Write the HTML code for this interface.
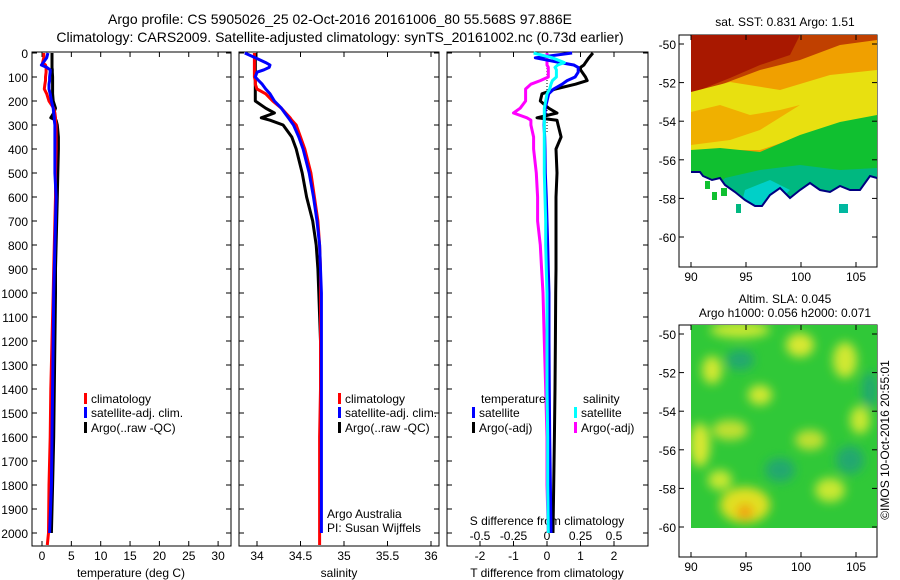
<!DOCTYPE html>
<html><head><meta charset="utf-8">
<style>
html,body{margin:0;padding:0;background:#fff;}
svg{display:block;font-family:"Liberation Sans",sans-serif;}
text{fill:#000;}
</style></head>
<body>
<svg id="fig" width="900" height="580" viewBox="0 0 900 580">
<defs>
<clipPath id="m1clip"><polygon points="691,35 877,35 877,178 870,176 860,190 850,190 840,186 830,192 820,190 810,183 800,190 790,198 780,188 770,195 762,206 755,206 745,200 735,192 725,185 720,178 712,180 703,176 700,172 691,172"/></clipPath>
<clipPath id="m2clip"><rect x="691" y="325" width="186" height="203"/></clipPath>
<filter id="blur"><feGaussianBlur stdDeviation="5"/></filter>
</defs>
<text x="340" y="24" font-size="14" text-anchor="middle">Argo profile: CS 5905026_25 02-Oct-2016 20161006_80 55.568S 97.886E</text>
<text x="340" y="42" font-size="14" text-anchor="middle">Climatology: CARS2009. Satellite-adjusted climatology: synTS_20161002.nc (0.73d earlier)</text>
<g id="panels"></g>

<!-- Map 1 SST -->
<g>
<rect x="679" y="35" width="198" height="232" fill="none" stroke="#000"/>
<g clip-path="url(#m1clip)">
<rect x="691" y="35" width="186" height="180" fill="#f0a000"/>
<polygon points="691,35 877,35 877,40 840,45 800,60 760,70 720,85 691,95" fill="#c04000"/>
<polygon points="691,35 800,35 790,55 760,65 730,78 700,90 691,92" fill="#a81800"/>
<polygon points="691,92 730,82 780,90 830,75 877,70 877,135 820,130 760,150 720,150 691,150" fill="#e8e010"/>
<polygon points="691,112 720,105 750,115 780,110 800,105 760,130 730,140 691,145" fill="#f0b000"/>
<polygon points="691,150 720,148 760,152 800,135 840,122 877,115 877,180 691,180" fill="#10c030"/>
<polygon points="725,178 760,170 800,165 840,170 877,168 877,215 691,215" fill="#00b880"/>
<polygon points="745,190 770,180 790,190 770,210 740,210" fill="#00d0c8"/>
</g>
<polyline fill="none" stroke="#000080" stroke-width="2" points="877,178 870,176 860,190 850,190 840,186 830,192 820,190 810,183 800,190 790,198 780,188 770,195 762,206 755,206 745,200 735,192 725,185 720,178 712,180 703,176 700,172 691,172"/>
<rect x="705" y="181" width="5" height="8" fill="#10c030"/><rect x="712" y="192" width="5" height="8" fill="#10c030"/><rect x="721" y="188" width="6" height="8" fill="#10c030"/><rect x="736" y="204" width="5" height="9" fill="#00b880"/><rect x="839" y="204" width="9" height="9" fill="#00b8a0"/>
<text x="785" y="26" font-size="12" text-anchor="middle">sat. SST: 0.831  Argo: 1.51</text>
</g>

<!-- Map 2 SLA -->
<g>
<rect x="679" y="325" width="198" height="232" fill="none" stroke="#000"/>
<g clip-path="url(#m2clip)">
<rect x="691" y="325" width="186" height="203" fill="#30c838"/>
<g filter="url(#blur)">
<ellipse cx="740" cy="330" rx="30" ry="8" fill="#c8e830"/>
<ellipse cx="800" cy="345" rx="14" ry="12" fill="#d8e830"/>
<ellipse cx="712" cy="370" rx="10" ry="14" fill="#d0e830"/>
<ellipse cx="845" cy="360" rx="12" ry="18" fill="#d0e830"/>
<ellipse cx="760" cy="395" rx="12" ry="10" fill="#d0e830"/>
<ellipse cx="700" cy="445" rx="10" ry="22" fill="#d8e830"/>
<ellipse cx="730" cy="430" rx="18" ry="10" fill="#c0e030"/>
<ellipse cx="810" cy="440" rx="15" ry="10" fill="#c0e030"/>
<ellipse cx="860" cy="420" rx="10" ry="14" fill="#c8e830"/>
<ellipse cx="745" cy="505" rx="25" ry="18" fill="#e0e020"/>
<ellipse cx="745" cy="512" rx="8" ry="8" fill="#f0a010"/>
<ellipse cx="720" cy="480" rx="12" ry="10" fill="#c8e830"/>
<ellipse cx="830" cy="490" rx="15" ry="12" fill="#c8e830"/>
<ellipse cx="780" cy="470" rx="15" ry="12" fill="#20a870"/>
<ellipse cx="850" cy="460" rx="14" ry="14" fill="#20a870"/>
<ellipse cx="740" cy="360" rx="14" ry="10" fill="#20a870"/>
<ellipse cx="870" cy="390" rx="8" ry="18" fill="#20a870"/>
</g>
</g>
<text x="785" y="303" font-size="12" text-anchor="middle">Altim. SLA: 0.045</text>
<text x="785" y="317" font-size="12" text-anchor="middle">Argo h1000: 0.056 h2000: 0.071</text>
</g>
<g id="mapaxes"></g>
<text transform="translate(889,440) rotate(-90)" font-size="12" text-anchor="middle">©IMOS 10-Oct-2016 20:55:01</text>
</svg>
<script>
const depths   = [0,20,40,50,60,70,80,100,115,130,150,170,200,230,250,270,280,300,350,400,500,600,700,800,900,1000,1200,1400,1600,1800,2000,2050];
const tempClim = [0.3,0.3,0.1,0.6,0.7,0.7,0.7,0.6,0.6,0.5,0.4,0.8,1.2,2.0,2.2,2.3,2.3,2.4,2.4,2.4,2.3,2.3,2.2,2.1,2.0,1.9,1.7,1.5,1.4,1.2,1.1,0.9];
const tempSat  = [1.0,0.8,0.2,-0.1,0.8,1.4,1.4,1.3,1.3,1.2,1.2,1.4,1.6,1.9,2.0,2.1,2.1,2.2,2.2,2.2,2.2,2.4,2.3,2.2,2.1,2.0,1.9,1.8,1.7,1.6,1.3,null];
const tempArgo = [1.7,1.7,1.7,1.7,1.7,1.75,1.75,1.8,1.8,1.8,1.8,1.8,1.9,2.3,2.0,1.5,2.4,2.6,2.8,2.8,2.7,2.6,2.5,2.4,2.3,2.3,2.2,2.1,2.0,1.8,1.6,null];
const salClim  = [33.97,33.97,33.97,33.97,33.97,33.97,33.97,33.97,33.98,33.98,34.0,34.1,34.18,34.28,34.33,34.38,34.40,34.45,34.5,34.55,34.62,34.66,34.70,34.72,34.73,34.73,34.73,34.73,34.72,34.72,34.72,34.72];
const salSat   = [33.86,33.98,34.1,34.15,34.14,34.08,34.0,33.98,34.02,34.06,34.1,34.15,34.2,34.28,34.32,34.36,34.38,34.42,34.48,34.53,34.6,34.65,34.69,34.72,34.73,34.74,34.74,34.74,34.74,34.74,34.74,null];
const salArgo  = [33.98,33.98,33.98,33.98,33.98,33.98,33.98,33.98,33.98,33.98,33.98,33.98,33.98,34.1,34.2,34.05,34.15,34.3,34.4,34.45,34.52,34.57,34.64,34.68,34.70,34.71,34.73,34.73,34.73,34.73,34.73,null];
const dTSat    = [0.75,-0.35,0.4,0.8,0.93,0.93,0.93,0.84,0.6,0.45,0.2,0.05,0.0,-0.05,-0.06,-0.08,-0.08,-0.09,-0.07,-0.06,-0.05,-0.02,0,0.02,0.04,0.06,0.06,0.07,0.08,0.1,0.12,null];
const dTArgo   = [1.37,1.25,1.15,1.1,1.0,1.0,1.05,1.15,1.2,0.85,0.25,-0.15,-0.2,0.05,0.3,-0.3,0.3,0.33,0.42,0.27,0.3,0.27,0.27,0.27,0.27,0.26,0.25,0.24,0.22,0.2,0.18,null];
const dSSat    = [-0.1,0.04,0.13,0.08,0.06,0.07,0.07,0.07,0.04,0.03,0.02,0.0,-0.01,-0.02,-0.02,-0.02,-0.02,-0.02,-0.02,-0.02,-0.02,-0.015,-0.01,-0.01,-0.005,0,0,0,0.005,0.005,0.01,null];
const dSArgo   = [0,0,0,0,0.01,0.01,0.01,0.01,-0.05,-0.12,-0.16,-0.16,-0.16,-0.2,-0.25,-0.15,-0.12,-0.12,-0.1,-0.1,-0.08,-0.07,-0.07,-0.05,-0.04,-0.03,-0.02,-0.01,0,0,0.01,null];
const depthTicks = [0,100,200,300,400,500,600,700,800,900,1000,1100,1200,1300,1400,1500,1600,1700,1800,1900,2000];
const tempTicks = [0,5,10,15,20,25,30];
const salTicks = [34,34.5,35,35.5,36];
const salTickLabels = ["34","34.5","35","35.5","36"];
const dTTicks = [-2,-1,0,1,2];
const dSTicks = [-0.5,-0.25,0,0.25,0.5];
const dSTickLabels = ["-0.5","-0.25","0","0.25","0.5"];
const latTicks = [-50,-52,-54,-56,-58,-60];
const lonTicks = [90,95,100,105];

const NS='http://www.w3.org/2000/svg';
const TOP=53, BOT=546, Y0=53, YK=0.24;
const yS = d => Y0 + YK*d;
function mk(tag, attrs, parent){const e=document.createElementNS(NS,tag);for(const k in attrs)e.setAttribute(k,attrs[k]);parent.appendChild(e);return e;}
const G=document.getElementById('panels');

const P = [
 {l:32,r:231,xs:v=>42+5.87*v,name:'temperature'},
 {l:239,r:439,xs:v=>257+87*(v-34),name:'salinity'},
 {l:447,r:648,xs:v=>547+33.5*v,name:'difference'}
];
const sx = v=>547+134*v;

P.forEach((p,i)=>{
  const f=mk('rect',{x:p.l,y:TOP-1,width:p.r-p.l,height:BOT-TOP+1,fill:'none',stroke:'#000','stroke-width':1},G);
  
  
  depthTicks.forEach(d=>{
    const y=yS(d);
    mk('line',{x1:p.l,x2:p.l+5,y1:y,y2:y,stroke:'#000'},G);
    mk('line',{x1:p.r-5,x2:p.r,y1:y,y2:y,stroke:'#000'},G);
    if(i===0){
      const t=mk('text',{x:28,y:y+5,'font-size':12,'text-anchor':'end'},G);
      t.textContent=d;
      
      
    }
  });
});
function xticks(vals,labels,fx,ly,p,top){
  vals.forEach((v,k)=>{
    const x=fx(v);
    mk('line',{x1:x,x2:x,y1:BOT,y2:BOT-5,stroke:'#000'},G);
    if(top) mk('line',{x1:x,x2:x,y1:TOP-1,y2:TOP+4,stroke:'#000'},G);
    const t=mk('text',{x:x,y:ly,'font-size':12,'text-anchor':'middle'},G);
    t.textContent=labels[k];
    
    
  });
}
xticks(tempTicks,tempTicks.map(String),P[0].xs,560,P[0],true);
xticks(salTicks,salTickLabels,P[1].xs,560,P[1],true);
xticks(dTTicks,dTTicks.map(String),P[2].xs,560,P[2],true);
dSTicks.forEach((v,k)=>{
  const t=mk('text',{x:sx(v),y:540,'font-size':12,'text-anchor':'middle'},G);
  t.textContent=dSTickLabels[k];
  
  
});
function label(x,y,s,name,anchor,size){
  const t=mk('text',{x:x,y:y,'font-size':size||12,'text-anchor':anchor||'middle'},G);
  t.textContent=s;
  
  
  return t;
}
label(131,577,'temperature (deg C)','temperature-axis-title');
label(339,577,'salinity','salinity-axis-title');
label(547,577,'T difference from climatology','t-diff-axis-title');
label(547,525,'S difference from climatology','s-diff-axis-title');
label(327,518,'Argo Australia','credit-line-1','start');
label(327,532,'PI: Susan Wijffels','credit-line-2','start');

mk('line',{x1:547,x2:547,y1:TOP,y2:yS(330),stroke:'#000','stroke-dasharray':'1,2'},G);

function line(vals,fx,color,name){
  const pts=[];
  vals.forEach((v,k)=>{ if(v!==null) pts.push(fx(v).toFixed(1)+','+yS(depths[k]).toFixed(1)); });
  const e=mk('polyline',{points:pts.join(' '),fill:'none',stroke:color,'stroke-width':3,'stroke-linejoin':'round'},G);
  
  
}
line(tempArgo,P[0].xs,'#000','temp-argo-line');
line(tempClim,P[0].xs,'#f00','temp-climatology-line');
line(tempSat,P[0].xs,'#00f','temp-satellite-line');
line(salArgo,P[1].xs,'#000','sal-argo-line');
line(salClim,P[1].xs,'#f00','sal-climatology-line');
line(salSat,P[1].xs,'#00f','sal-satellite-line');
line(dTArgo,P[2].xs,'#000','t-diff-argo-line');
line(dSArgo,sx,'#f0f','s-diff-argo-line');
line(dTSat,P[2].xs,'#00f','t-diff-satellite-line');
line(dSSat,sx,'#0ff','s-diff-satellite-line');

function legend(x,y,color,s,name){
  const m=mk('rect',{x:x,y:y-10,width:3,height:11,fill:color},G);
  
  
  label(x+7,y,s,name,'start');
}
legend(84,403,'#f00','climatology','legend-climatology');
legend(84,417,'#00f','satellite-adj. clim.','legend-satellite-adj');
legend(84,432,'#000','Argo(..raw -QC)','legend-argo');
legend(338,403,'#f00','climatology','legend-sal-climatology');
legend(338,417,'#00f','satellite-adj. clim.','legend-sal-satellite-adj');
legend(338,432,'#000','Argo(..raw -QC)','legend-sal-argo');
label(481,403,'temperature','legend-temperature-heading','start');
legend(472,417,'#00f','satellite','legend-t-satellite');
legend(472,432,'#000','Argo(-adj)','legend-t-argo');
label(583,403,'salinity','legend-salinity-heading','start');
legend(574,417,'#0ff','satellite','legend-s-satellite');
legend(574,432,'#f0f','Argo(-adj)','legend-s-argo');

const MA=document.getElementById('mapaxes');
[[44,267,281],[334,557,571]].forEach((m,j)=>{
  latTicks.forEach((lat,k)=>{
    const y=m[0]+19.3*(-50-lat);
    mk('line',{x1:679,x2:684,y1:y,y2:y,stroke:'#000'},MA);
    mk('line',{x1:872,x2:877,y1:y,y2:y,stroke:'#000'},MA);
    const t=mk('text',{x:676,y:y+5,'font-size':12,'text-anchor':'end'},MA);
    t.textContent=lat;
    
    
  });
  lonTicks.forEach(lon=>{
    const x=691+11*(lon-90);
    mk('line',{x1:x,x2:x,y1:m[1],y2:m[1]-5,stroke:'#000'},MA);
    mk('line',{x1:x,x2:x,y1:m[0]-9,y2:m[0]-4,stroke:'#000'},MA);
    const t=mk('text',{x:x,y:m[2],'font-size':12,'text-anchor':'middle'},MA);
    t.textContent=lon;
    
    
  });
});
</script>
</body></html>
